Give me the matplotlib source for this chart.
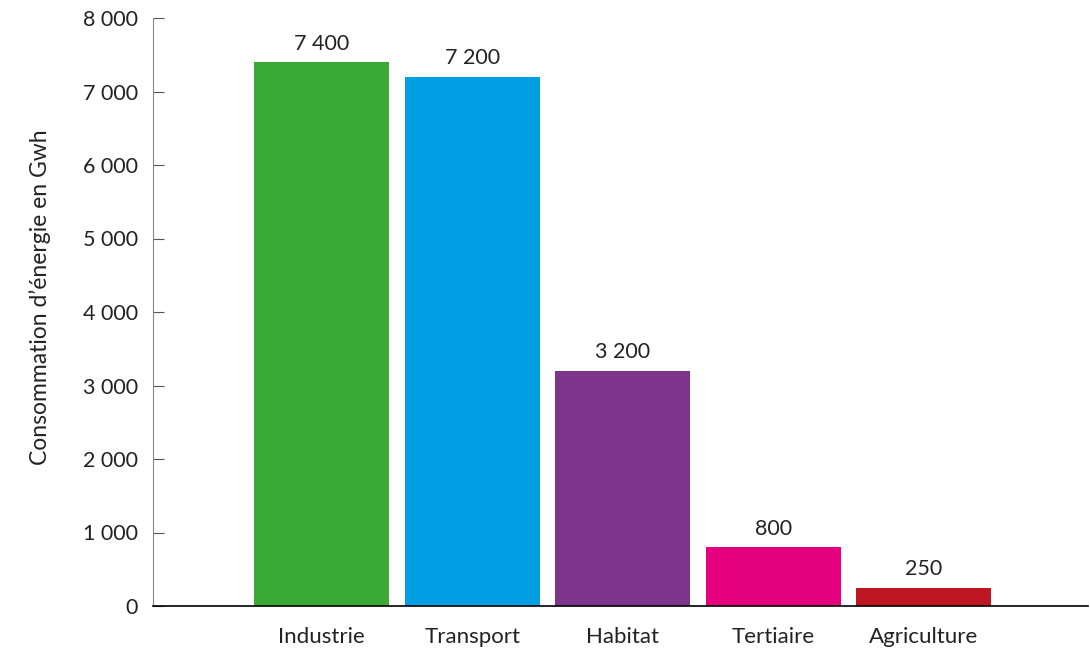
import matplotlib.pyplot as plt
from matplotlib.ticker import FuncFormatter

categories = ["Industrie", "Transport", "Habitat", "Tertiaire", "Agriculture"]
values = [7400, 7200, 3200, 800, 250]
colors = ["#3aaa35", "#009fe3", "#7f348b", "#e5007d", "#be1622"]

plt.rcParams['font.family'] = ['Lato', 'DejaVu Sans']


def fmt(v, pos=None):
    return f"{int(v):,}".replace(",", " ")


fig = plt.figure(figsize=(10.9, 6.54), dpi=100)
ax = fig.add_axes([153 / 1090, 1 - 606 / 654, (1088 - 153) / 1090, (606 - 18) / 654])

x = list(range(len(categories)))
bars = ax.bar(x, values, width=0.897, color=colors)

# valeurs au-dessus des barres
for b, v in zip(bars, values):
    ax.annotate(fmt(v), (b.get_x() + b.get_width() / 2, v), xytext=(0, 6),
                textcoords="offset points", ha="center", va="bottom",
                fontsize=15.5, color="#222222")

ax.set_xlim(-1.12, 5.09)
ax.set_ylim(0, 8000)
ax.set_yticks(range(0, 8001, 1000))
ax.yaxis.set_major_formatter(FuncFormatter(fmt))
ax.set_xticks(x)
ax.set_xticklabels(categories)

ax.spines['top'].set_visible(False)
ax.spines['right'].set_visible(False)
ax.spines['left'].set_color("#888888")
ax.spines['bottom'].set_color("black")
ax.spines['bottom'].set_linewidth(1.2)

ax.tick_params(axis='y', direction='in', length=8, color="#555555",
               labelsize=15.5, pad=11, labelcolor="#222222")
ax.tick_params(axis='x', length=0, labelsize=16, pad=15, labelcolor="#222222")
ax.set_ylabel("Consommation d\u2019énergie en Gwh", fontsize=16.5, color="#222222")
ax.yaxis.set_label_coords(-0.109, 0.525)

fig.savefig("out.png", dpi=100)
